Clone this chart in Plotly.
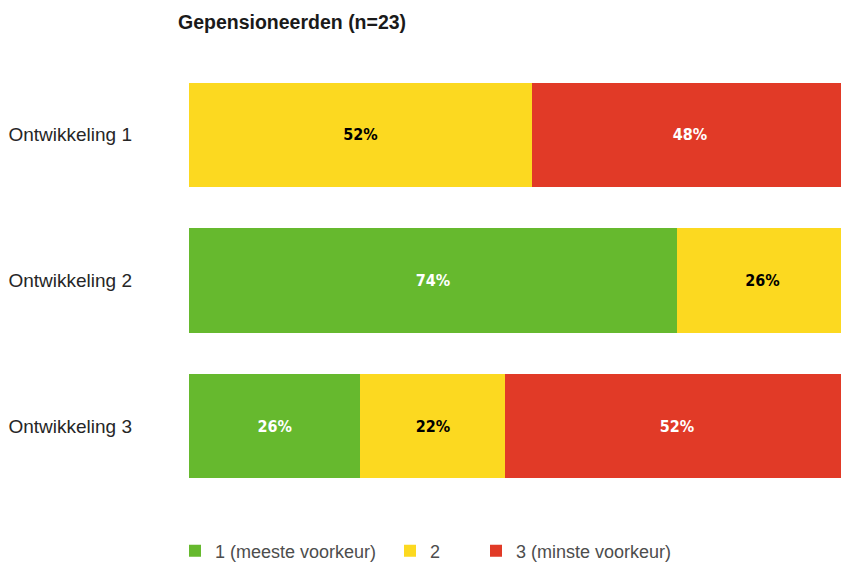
import plotly.graph_objects as go

categories = ["Ontwikkeling 1", "Ontwikkeling 2", "Ontwikkeling 3"]
series_names = ["1 (meeste voorkeur)", "2", "3 (minste voorkeur)"]
pref1 = [0, 74, 26]
pref2 = [52, 26, 22]
pref3 = [48, 0, 52]
title_text = "Gepensioneerden (n=23)"

colors = ["#66b92e", "#fcd920", "#e13a27"]
text_colors = ["white", "black", "white"]
values = [pref1, pref2, pref3]
legend_ids = ["legend", "legend2", "legend3"]

FONT = "Liberation Sans"
NARROW = "DejaVu Sans Condensed"

fig = go.Figure()
for name, vals, col, tcol, lg in zip(series_names, values, colors, text_colors, legend_ids):
    fig.add_trace(go.Bar(
        y=categories, x=vals, name=name, orientation="h",
        marker=dict(color=col, line=dict(width=0)),
        text=[f"{v}%" if v > 0 else "" for v in vals],
        textposition="inside", insidetextanchor="middle",
        textfont=dict(family=NARROW, size=16, color=tcol, weight="bold"),
        legend=lg, hoverinfo="skip",
    ))

PW = 652.0
PH = 436.5
leg_common = dict(orientation="h", yanchor="middle", xanchor="left",
                  font=dict(family=FONT, size=18, color="#4d4d4d"),
                  itemwidth=30, bgcolor="rgba(0,0,0,0)", borderwidth=0)
ly = -52 / PH

fig.update_layout(
    width=841, height=563,
    margin=dict(l=189, r=0, t=62, b=64, autoexpand=False),
    barmode="stack", bargap=0.285,
    plot_bgcolor="white", paper_bgcolor="white",
    title=dict(text=title_text, x=178/841, xanchor="left", y=1 - 22/563, yanchor="middle",
               font=dict(family=FONT, size=19.5, color="#1a1a1a", weight="bold")),
    xaxis=dict(range=[0, 98.9], showticklabels=False, showgrid=False, zeroline=False,
               showline=False, fixedrange=True),
    yaxis=dict(autorange="reversed", showgrid=False, showline=False, ticks="",
               tickfont=dict(family=FONT, size=19, color="#262626"),
               ticklabelstandoff=56, automargin=False, fixedrange=True),
    legend=dict(x=(175 - 189) / PW, y=ly, **leg_common),
    legend2=dict(x=(390 - 189) / PW, y=ly, **leg_common),
    legend3=dict(x=(476 - 189) / PW, y=ly, **leg_common),
    showlegend=True,
)

fig.write_html("out.html", config={"displayModeBar": False},
               post_script="document.body.style.margin='0';document.body.style.overflow='hidden';")
